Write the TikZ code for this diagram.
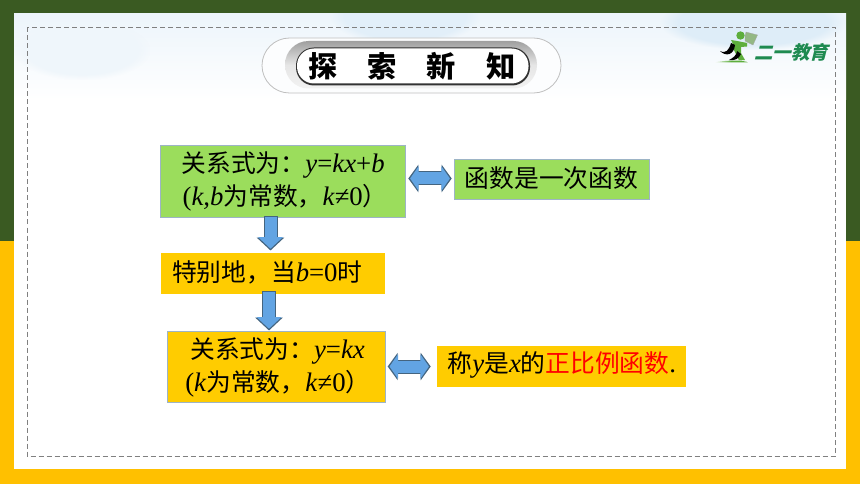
\documentclass[tikz,border=0pt]{standalone}
\usepackage{fontspec}
\setmainfont[Scale=1.07]{Liberation Serif}
\newfontfamily\cjk[Scale=0.99]{Noto Sans CJK SC}
\newfontfamily\logofont[FakeSlant=0.25]{Noto Sans CJK SC}
\usetikzlibrary{arrows.meta,fadings}
\definecolor{darkgreen}{HTML}{3A5A22}
\definecolor{bargold}{HTML}{FFC000}
\definecolor{boxgreen}{HTML}{9BDD5C}
\definecolor{boxgold}{HTML}{FFCC00}
\definecolor{boxedge}{HTML}{9DB4C6}
\definecolor{arrowblue}{HTML}{62A4E3}
\definecolor{arrowedge}{HTML}{44647F}
\definecolor{skyblue}{HTML}{D6E8F6}
\definecolor{logogreen}{HTML}{1E8A50}
\definecolor{runner}{HTML}{5DAE3C}
\newcommand{\zh}[1]{{\cjk #1}}
\newcommand{\mi}[1]{\textit{#1}}
\tikzset{
	flowbox/.style={anchor=north west, inner sep=0pt, outer sep=0pt, line width=1pt, draw=boxedge, align=left,
		execute at begin node={\vspace*{3pt}}},
	greenbox/.style={flowbox, fill=boxgreen},
	goldbox/.style={flowbox, fill=boxgold},
	downfat/.style={line width=12pt, draw=arrowblue, shorten >=1.8pt, shorten <=1pt,
		-{Triangle[length=11.5pt,width=24pt]},
		preaction={draw=arrowedge, line width=14pt, shorten >=0pt, shorten <=0pt, -{Triangle[length=13pt,width=27pt]}}},
	bothfat/.style={line width=12pt, draw=arrowblue, shorten >=1.8pt, shorten <=1.8pt,
		{Triangle[length=8.5pt,width=24pt]}-{Triangle[length=8.5pt,width=24pt]},
		preaction={draw=arrowedge, line width=14pt, shorten >=0pt, shorten <=0pt,
		{Triangle[length=10pt,width=27pt]}-{Triangle[length=10pt,width=27pt]}}},
}
\begin{document}
\begin{tikzpicture}[x=1pt,y=-1pt,font=\fontsize{25}{30}\selectfont]
	\useasboundingbox (0,0) rectangle (860,484);
	% background
	\fill[darkgreen] (0,0) rectangle (860,241);
	\fill[bargold] (0,241) rectangle (860,484);
	\fill[white] (14,14) rectangle (846,469);
	\begin{scope}
		\clip (14,14) rectangle (846,469);
		\shade[top color=skyblue!45, bottom color=white] (14,14) rectangle (846,100);
		\fill[skyblue!70, path fading=circle with fuzzy edge 20 percent] (330,-15) rectangle (480,45);
		\fill[skyblue!80, path fading=circle with fuzzy edge 20 percent] (660,-5) rectangle (846,50);
		\fill[skyblue!40, path fading=circle with fuzzy edge 20 percent] (14,20) rectangle (150,80);
	\end{scope}
	\draw[gray, line width=.8pt, dash pattern=on 5pt off 3pt] (27.5,27.5) rectangle (835,456.5);
	% title
	\draw[lightgray, fill=white!92!skyblue, line width=.8pt, rounded corners=27.5pt] (262,38) rectangle (561,93);
	\shade[top color=gray!75, bottom color=gray!10, middle color=gray!20, rounded corners=23.5pt] (285,41) rectangle (537,88.5);
	\fill[black!80, rounded corners=18pt] (296,47.5) rectangle (530,85.5);
	\fill[white, rounded corners=17pt] (297,48.5) rectangle (528.5,83.5);
	\node (title) at (412,66) {\fontsize{29.5}{30}\selectfont\bfseries\cjk 探\hspace{30pt}索\hspace{30pt}新\hspace{30pt}知};
	% logo
	\fill[runner!45!lightgray, draw=gray!70, line width=.3pt] (745,36) -- (746,32) -- (757.5,35) -- (753,45) -- (745,41) -- cycle;
	\fill[runner] (740.5,35.5) circle (4.2pt);
	\fill[runner] (731,40) -- (737,41) -- (747,43) -- (747,46.5) -- (741,47) -- (741,53) -- (745,60) -- (739,60.5) -- (734,50) -- (733,44) -- cycle;
	\fill[black] (720,51) .. controls (726,54) and (729,50) .. (731,43) -- (735,45) .. controls (734,55) and (726,57) .. (720,51) -- cycle;
	\fill[black] (737,51) .. controls (737,55) and (733,58) .. (729,60) .. controls (734,61) and (739,59) .. (741,54) -- cycle;
	\shade[left color=white, right color=runner, middle color=runner] (714,62.5) .. controls (725,60) and (745,60) .. (748,62.5) -- cycle;
	\node[text=logogreen, inner sep=0pt] (logo) at (791,52) {\fontsize{18.5}{20}\selectfont\bfseries\logofont 二一教育};
	% boxes
	\node[greenbox, text width=245pt, minimum height=71.5pt] (linear) at (160.7,146) {\hspace*{21pt}\zh{关系式为：}\mi{y}=\mi{kx}+\mi{b}\\\hspace*{22pt}(\mi{k,b}\zh{为常数，}\mi{k}≠0\zh{）}};
	\node[goldbox, draw=none, text width=224pt, minimum height=41pt] (special) at (161,253) {\hspace*{11pt}\zh{特别地，当}\mi{b}=0\zh{时}};
	\node[goldbox, text width=218.5pt, minimum height=70.5pt] (direct) at (167.3,331.8) {\hspace*{23pt}\zh{关系式为：}\mi{y}=\mi{kx}\\\hspace*{18pt}(\mi{k}\zh{为常数，}\mi{k}≠0\zh{）}};
	\node[greenbox, text width=194.7pt, minimum height=40pt] (islinear) at (454.3,159.3) {\hspace*{10.5pt}\zh{函数是一次函数}};
	\node[goldbox, draw=none, text width=249pt, minimum height=41pt] (isdirect) at (436.7,346) {\hspace*{11pt}\zh{称}\mi{y}\zh{是}\mi{x}\zh{的}\textcolor{red}{\zh{正比例函数}}.};
	% arrows
	\coordinate (d1s) at (270.5,216);
	\coordinate (d1e) at (270.5,250.5);
	\coordinate (d2s) at (269,291);
	\coordinate (d2e) at (269,330.5);
	\coordinate (b1s) at (408.3,178.5);
	\coordinate (b1e) at (451.7,178.5);
	\coordinate (b2s) at (387.7,366.5);
	\coordinate (b2e) at (430.7,366.5);
	\draw[downfat] (d1s) -- (d1e);
	\draw[downfat] (d2s) -- (d2e);
	\draw[bothfat] (b1s) -- (b1e);
	\draw[bothfat] (b2s) -- (b2e);
\end{tikzpicture}
\end{document}
